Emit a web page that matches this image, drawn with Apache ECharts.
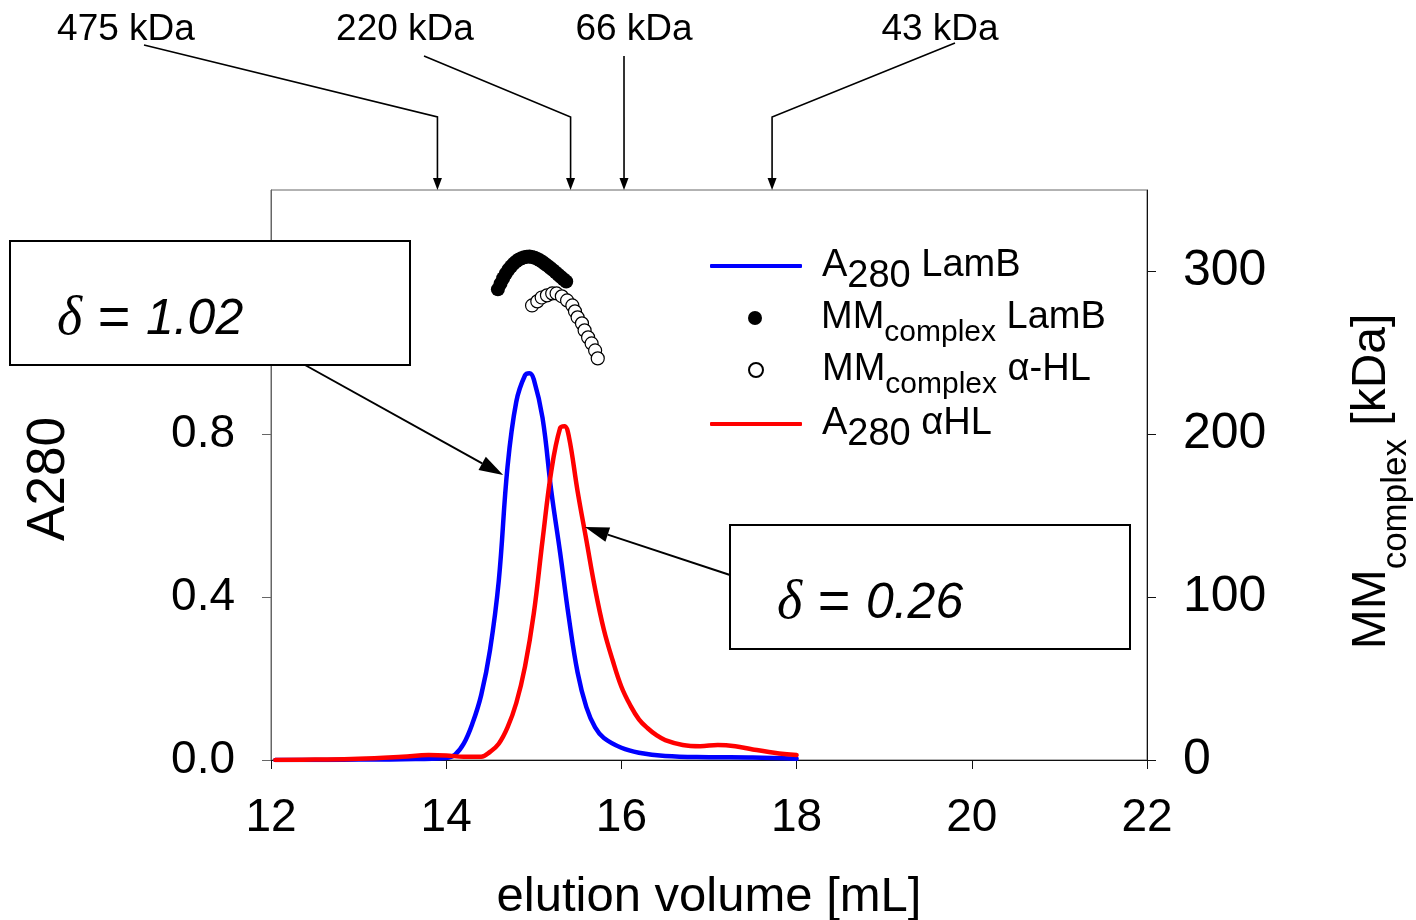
<!DOCTYPE html>
<html><head><meta charset="utf-8">
<script src="https://cdn.jsdelivr.net/npm/echarts@6/dist/echarts.min.js"></script>
<style>html,body{margin:0;padding:0;background:#fff}#c{width:1416px;height:920px}</style>
</head><body><div id="c"></div>
<script>
// ---------- data ----------
const xTicks = [12, 14, 16, 18, 20, 22];
const leftTicks = [0, 0.4, 0.8, 1.2];
const rightTicks = [0, 100, 200, 300];

// A280 LamB (blue)
const lambVol = [12.05, 12.5, 13.0, 13.5, 14.0, 14.1, 14.2, 14.3, 14.4, 14.5, 14.6, 14.7, 14.8, 14.9, 14.95, 15.0, 15.1, 15.2, 15.3, 15.4, 15.5, 15.6, 15.7, 15.8, 16.0, 16.2, 16.5, 17.0, 17.5, 18.0];
const lambA   = [0.000, 0.000, 0.001, 0.002, 0.005, 0.013, 0.04, 0.09, 0.16, 0.27, 0.44, 0.72, 0.88, 0.945, 0.95, 0.935, 0.84, 0.66, 0.51, 0.35, 0.215, 0.13, 0.08, 0.054, 0.03, 0.018, 0.01, 0.007, 0.006, 0.003];

// A280 aHL (red)
const hlVol = [12.05, 12.5, 13.0, 13.5, 13.8, 14.0, 14.2, 14.4, 14.5, 14.6, 14.7, 14.8, 14.9, 15.0, 15.1, 15.2, 15.3, 15.35, 15.4, 15.5, 15.6, 15.7, 15.8, 15.9, 16.0, 16.1, 16.2, 16.3, 16.4, 16.5, 16.7, 16.9, 17.1, 17.3, 17.5, 17.8, 18.0];
const hlA   = [0.000, 0.001, 0.003, 0.008, 0.012, 0.011, 0.008, 0.008, 0.02, 0.04, 0.08, 0.14, 0.23, 0.36, 0.54, 0.71, 0.815, 0.82, 0.795, 0.66, 0.54, 0.42, 0.32, 0.245, 0.18, 0.135, 0.10, 0.078, 0.061, 0.049, 0.037, 0.034, 0.037, 0.034, 0.026, 0.016, 0.012];

// MM complex LamB (filled)
const lambMMVol = [14.59, 14.62, 14.65, 14.68, 14.71, 14.74, 14.77, 14.80, 14.83, 14.86, 14.89, 14.92, 14.95, 14.98, 15.01, 15.04, 15.07, 15.10, 15.13, 15.16, 15.19, 15.22, 15.25, 15.28, 15.31, 15.34, 15.37];
const lambMM    = [289, 292.5, 295.8, 298.6, 301, 303, 304.8, 306.2, 307.3, 308.1, 308.7, 309, 309.1, 308.9, 308.4, 307.7, 306.8, 305.8, 304.6, 303.4, 302.1, 300.8, 299.4, 298, 296.6, 295.2, 293.8];

// MM complex a-HL (open)
const hlMMVol = [14.98, 15.04, 15.09, 15.15, 15.21, 15.26, 15.32, 15.38, 15.44, 15.47, 15.50, 15.55, 15.58, 15.62, 15.66, 15.70, 15.73];
const hlMM    = [279.1, 281.6, 284.0, 285.3, 286.5, 286.5, 284.7, 282.2, 279.1, 275.5, 271.8, 268.1, 263.8, 259.5, 255.8, 251.5, 246.6];

// calibration markers
const markerVol = [13.9, 15.42, 16.03, 17.72];
const markerLabel = ['475 kDa', '220 kDa', '66 kDa', '43 kDa'];

// delta annotations
const deltaText = ['1.02', '0.26'];
const deltaTip = [[14.65, 0.70], [15.584, 0.572]];

// ---------- layout ----------
const FONT = '"Liberation Sans", Arial, sans-serif';
const SERIF = '"Liberation Serif", "DejaVu Serif", serif';
const markerLabelPos = [[126, 30], [405, 30], [634, 30], [940, 30]];
const markerLineStart = [[144, 45], [424, 56], [624, 56], [955, 43]];
const markerBendY = 117;
const deltaBox = [[10, 241, 400, 124], [730, 525, 400, 124]];
const deltaTextPos = [[57, 320], [777, 604]];
const deltaArrowStart = [[305, 365], [730, 575]];

const zip = (a, b) => a.map((v, i) => [v, b[i]]);

const legendRich = {
  sp: {width: 15, lineHeight: 60, fontSize: 10},
  m: {fontSize: 38, fontFamily: FONT, color: '#000', lineHeight: 40},
  s: {fontSize: 38, fontFamily: FONT, color: '#000', lineHeight: 40, verticalAlign: 'bottom'},
  c: {fontSize: 30, fontFamily: FONT, color: '#000', lineHeight: 40, verticalAlign: 'bottom'}
};
const legendFmt = {
  'A280 LamB': '{sp| }{m|A}{s|280}{m| LamB}',
  'MM LamB': '{sp| }{m|MM}{c|complex}{m| LamB}',
  'MM α-HL': '{sp| }{m|MM}{c|complex}{m| α-HL}',
  'A280 αHL': '{sp| }{m|A}{s|280}{m| αHL}'
};
function mkLegend(name, left, top, icon, h) {
  return {
    data: [name], left: left, top: top, orient: 'vertical', padding: 0, itemGap: 0,
    itemWidth: 92, itemHeight: h, icon: icon, selectedMode: false,
    formatter: n => legendFmt[n],
    textStyle: {fontFamily: FONT, fontSize: 38, color: '#000', rich: legendRich}
  };
}

const axisLabelStyle = {fontFamily: FONT, fontSize: 46, color: '#000'};

const option = {
  animation: false,
  backgroundColor: '#fff',
  grid: {left: 271, right: 269, top: 190, bottom: 160, show: true, borderColor: '#666', borderWidth: 1,
         containLabel: false, outerBoundsMode: 'none'},
  legend: [
    mkLegend('A280 LamB', 710, 247, 'roundRect', 4),
    mkLegend('MM LamB', 748, 299, 'circle', 14),
    mkLegend('MM α-HL', 748, 351, 'circle', 14),
    mkLegend('A280 αHL', 710, 405, 'roundRect', 4)
  ],
  xAxis: {
    type: 'value', min: 12, max: 22, interval: 2,
    axisLine: {show: true, onZero: false, lineStyle: {color: '#111', width: 1}},
    axisTick: {show: true, inside: false, length: 9, lineStyle: {color: '#111'}},
    axisLabel: Object.assign({margin: 35, customValues: xTicks}, axisLabelStyle),
    splitLine: {show: false},
    name: 'elution volume [mL]', nameLocation: 'middle', nameGap: 113,
    nameTextStyle: {fontFamily: FONT, fontSize: 49, color: '#000'}
  },
  yAxis: [{
    type: 'value', min: 0, max: 1.4, interval: 0.4, position: 'left',
    axisLine: {show: true, lineStyle: {color: '#666', width: 1}},
    axisTick: {show: true, inside: false, length: 9, customValues: leftTicks, lineStyle: {color: '#666'}},
    axisLabel: Object.assign({margin: 36, customValues: leftTicks, formatter: v => v.toFixed(1)}, axisLabelStyle),
    splitLine: {show: false},
    name: 'A280', nameLocation: 'middle', nameRotate: 90, nameGap: 195,
    nameTextStyle: {fontFamily: FONT, fontSize: 53, color: '#000', padding: [0, 8, 0, 0]}
  }, {
    type: 'value', min: 0, max: 350, interval: 100, position: 'right',
    axisLine: {show: true, lineStyle: {color: '#111', width: 1}},
    axisTick: {show: true, inside: false, length: 9, customValues: rightTicks, lineStyle: {color: '#111'}},
    axisLabel: Object.assign({margin: 36, customValues: rightTicks}, axisLabelStyle, {fontSize: 50}),
    splitLine: {show: false},
    name: '{sp|}{a|MM}{b|complex}{a| [kDa]}{sp2| }', nameLocation: 'middle', nameRotate: 90, nameGap: 183,
    nameTextStyle: {fontFamily: FONT, fontSize: 48, color: '#000', rich: {
      sp: {width: 1, lineHeight: 84, fontSize: 10},
      sp2: {width: 14, lineHeight: 84, fontSize: 10},
      a: {fontFamily: FONT, fontSize: 48, color: '#000', lineHeight: 52},
      b: {fontFamily: FONT, fontSize: 35, color: '#000', lineHeight: 52, verticalAlign: 'bottom'}
    }}
  }],
  series: [
    {name: 'A280 LamB', type: 'line', data: zip(lambVol, lambA), yAxisIndex: 0, smooth: 0.4, symbol: 'none',
     lineStyle: {color: '#0000ff', width: 4.5, cap: 'round', join: 'round'}, itemStyle: {color: '#0000ff'}, z: 3},
    {name: 'A280 αHL', type: 'line', data: zip(hlVol, hlA), yAxisIndex: 0, smooth: 0.4, symbol: 'none',
     lineStyle: {color: '#ff0000', width: 4.5, cap: 'round', join: 'round'}, itemStyle: {color: '#ff0000'}, z: 4},
    {name: 'MM α-HL', type: 'scatter', data: zip(hlMMVol, hlMM), yAxisIndex: 1, symbol: 'circle', symbolSize: 13,
     itemStyle: {color: '#ffffff', borderColor: '#000', borderWidth: 1.2, opacity: 1}, z: 5},
    {name: 'MM LamB', type: 'scatter', data: zip(lambMMVol, lambMM), yAxisIndex: 1, symbol: 'circle', symbolSize: 14,
     itemStyle: {color: '#000000', opacity: 1}, z: 6}
  ]
};

const chart = echarts.init(document.getElementById('c'), null, {renderer: 'canvas'});
chart.setOption(option);

// ---------- annotations (positions derived from the axes) ----------
function toPx(x, y) { return chart.convertToPixel({xAxisIndex: 0, yAxisIndex: 0}, [x, y]); }
function arrowHead(from, tip, L, W) {
  const dx = tip[0] - from[0], dy = tip[1] - from[1];
  const d = Math.hypot(dx, dy), ux = dx / d, uy = dy / d;
  const bx = tip[0] - ux * L, by = tip[1] - uy * L;
  const px = -uy * W / 2, py = ux * W / 2;
  return {base: [bx, by], pts: [[tip[0], tip[1]], [bx + px, by + py], [bx - px, by - py]]};
}
const g = [];
const plotTop = toPx(12, 1.4)[1];
markerVol.forEach((v, i) => {
  const xPix = toPx(v, 0)[0];
  const tip = [xPix, plotTop];
  const bend = [xPix, markerBendY];
  const ah = arrowHead(bend, tip, 12, 9);
  g.push({type: 'polyline', z: 50, shape: {points: [markerLineStart[i], bend, ah.base]},
          style: {stroke: '#000', lineWidth: 1.6, fill: null}});
  g.push({type: 'polygon', z: 50, shape: {points: ah.pts}, style: {fill: '#000'}});
  g.push({type: 'text', z: 50, style: {text: markerLabel[i], x: markerLabelPos[i][0], y: markerLabelPos[i][1],
          font: '37px ' + FONT, fill: '#000', align: 'center', verticalAlign: 'middle', textAlign: 'center', textVerticalAlign: 'middle'}});
});
deltaText.forEach((t, i) => {
  const b = deltaBox[i];
  g.push({type: 'rect', z: 60, shape: {x: b[0], y: b[1], width: b[2], height: b[3]},
          style: {fill: '#fff', stroke: '#000', lineWidth: 2}});
  const tip = toPx(deltaTip[i][0], deltaTip[i][1]);
  const from = deltaArrowStart[i];
  const ah = arrowHead(from, tip, 24, 15);
  g.push({type: 'line', z: 61, shape: {x1: from[0], y1: from[1], x2: ah.base[0], y2: ah.base[1]},
          style: {stroke: '#000', lineWidth: 2}});
  g.push({type: 'polygon', z: 61, shape: {points: ah.pts}, style: {fill: '#000'}});
  g.push({type: 'text', z: 62, style: {
    text: '{d|δ}{e| = }{n|' + t + '}', x: deltaTextPos[i][0], y: deltaTextPos[i][1],
    align: 'left', verticalAlign: 'middle', textAlign: 'left', textVerticalAlign: 'middle',
    rich: {
      d: {fontFamily: SERIF, fontStyle: 'italic', fontSize: 54, fill: '#000', color: '#000'},
      e: {fontFamily: FONT, fontSize: 56, fill: '#000', color: '#000'},
      n: {fontFamily: FONT, fontStyle: 'italic', fontSize: 50, fill: '#000', color: '#000'}
    }}});
});
chart.setOption({graphic: {elements: g}});
</script>
</body></html>
